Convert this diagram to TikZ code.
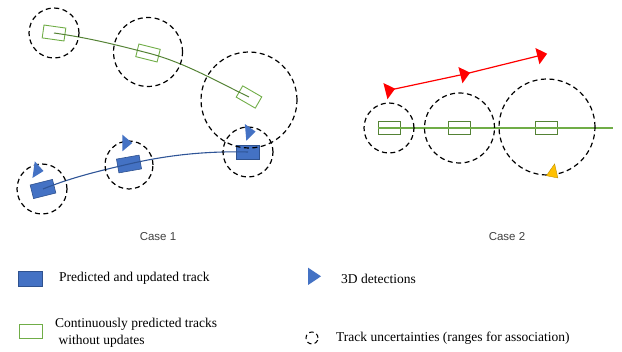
\documentclass[tikz,border=0pt]{standalone}
\usepackage{fontspec}
\setmainfont{Liberation Serif}
\newfontfamily\casefont{Liberation Sans}
\definecolor{trkblue}{HTML}{4472C4}
\definecolor{trkblueedge}{HTML}{2F528F}
\definecolor{curveblue}{HTML}{2F5597}
\definecolor{boxgreen}{HTML}{70AD47}
\definecolor{curvegreen}{HTML}{548235}
\definecolor{detyellow}{HTML}{FFC000}
\definecolor{detyellowedge}{HTML}{BF9000}
\definecolor{labelgray}{HTML}{404040}

\tikzset{
  unc/.style={circle, draw=black, line width=1.2pt, dash pattern=on 5pt off 3.5pt,
    inner sep=0pt, minimum size=#1},
  updbox/.style={draw=trkblueedge, fill=trkblue, line width=0.6pt,
    minimum width=23pt, minimum height=14pt, inner sep=0pt},
  predbox/.style={draw=boxgreen, line width=0.9pt,
    minimum width=22pt, minimum height=13pt, inner sep=0pt},
  predboxdark/.style={predbox, draw=curvegreen},
  greencurve/.style={draw=curvegreen, line width=1pt},
  bluecurve/.style={draw=curveblue, line width=1.1pt},
  redtrack/.style={draw=red, line width=1.2pt},
  caselabel/.style={font=\casefont\fontsize{11.5}{13}\selectfont, text=labelgray},
  legendtext/.style={font=\fontsize{13.5}{17}\selectfont, anchor=west, inner sep=0pt, align=left},
  pics/detmark/.style={code={\fill[#1] (-4.5,-8) -- (5,0) -- (-4.5,8) -- cycle;}},
}

\begin{document}
\begin{tikzpicture}[x=1pt, y=-1pt]
\useasboundingbox (0,0) rectangle (622,352);

% ---------- Case 1: predicted-only track (green) ----------
\node[predbox, rotate=-8]  (g1) at (54,33)  {};
\node[predbox, rotate=-14] (g2) at (148,53) {};
\node[predbox, rotate=-30] (g3) at (249,97) {};
\draw[greencurve] (g1.center) .. controls +(35,5) and +(-35,-9) .. (g2.center)
                  .. controls +(35,9) and +(-35,-17) .. (g3.center);

% ---------- Case 1: updated track (blue) ----------
\node[updbox, rotate=14] (b1) at (43,189)  {};
\node[updbox, rotate=10] (b2) at (129,164) {};
\node[updbox]            (b3) at (248,152) {};
\draw[bluecurve] (b1.center) .. controls +(30,-12) and +(-30,7) .. (b2.center)
                 .. controls +(40,-9.3) and +(-40,-1) .. (b3.center);

% uncertainty ranges, case 1
\node[unc=50] (ug1) at (54,33)  {};
\node[unc=69] (ug2) at (148,52) {};
\node[unc=96] (ug3) at (249,100) {};
\node[unc=50] (ub1) at (42,189) {};
\node[unc=48] (ub2) at (129,165) {};
\node[unc=50] (ub3) at (248,152) {};

% detections, case 1
\pic[rotate=-8, scale=1.05] (d1) at (38.3,170.3) {detmark=trkblue};
\pic[scale=1.05]            (d2) at (127,143)    {detmark=trkblue};
\pic[rotate=5, scale=1.05]  (d3) at (250.3,132)  {detmark=trkblue};

\node[caselabel] (case1) at (158,237) {Case 1};

% ---------- Case 2 ----------
\node[predboxdark] (e1) at (389,128)   {};
\node[predboxdark] (e2) at (459.5,128) {};
\node[predboxdark] (e3) at (546.5,128) {};
\coordinate (eend) at (613,128);
\draw[draw=boxgreen, line width=1.1pt] (e1.west) -- (eend);

\node[unc=50] (ue1) at (389,128)   {};
\node[unc=70] (ue2) at (459.5,128) {};
\node[unc=96] (ue3) at (547,127)   {};

% unassociated detections
\coordinate (r1) at (390,90);
\coordinate (r2) at (465,74);
\coordinate (r3) at (542,55);
\draw[redtrack] (r1) -- (r2) -- (r3);
\pic[rotate=14, scale=1.05] (rd1) at (r1) {detmark=red};
\pic[rotate=14, scale=1.05] (rd2) at (r2) {detmark=red};
\pic[rotate=14, scale=1.05] (rd3) at (r3) {detmark=red};

% detection near the large range
\pic[rotate=79, xscale=1.39, yscale=0.73] (yd) at (553.3,170.7) {detmark={detyellow, draw=detyellowedge, line width=0.4pt}};

\node[caselabel] (case2) at (507,237) {Case 2};

% ---------- Legend ----------
\node[updbox, minimum width=24pt, minimum height=15pt] (lg1) at (30,278.5) {};
\node[legendtext] (lt1) at (59,278) {Predicted and updated track};

\node[predbox, minimum width=23pt, minimum height=14pt] (lg2) at (30.5,331) {};
\node[legendtext, anchor=north west] (lt2) at (55,318) {Continuously predicted tracks\\\hspace*{3.5pt}without updates};

\pic[xscale=1.35, yscale=1.07] (lg3) at (314.3,276.3) {detmark=trkblue};
\node[legendtext] (lt3) at (341,279) {3D detections};

\node[circle, draw=black, line width=1pt, dash pattern=on 4.5pt off 3.2pt,
      inner sep=0pt, minimum size=12pt] (lg4) at (312,338) {};
\node[legendtext] (lt4) at (336,338) {Track uncertainties (ranges for association)};
\end{tikzpicture}
\end{document}
